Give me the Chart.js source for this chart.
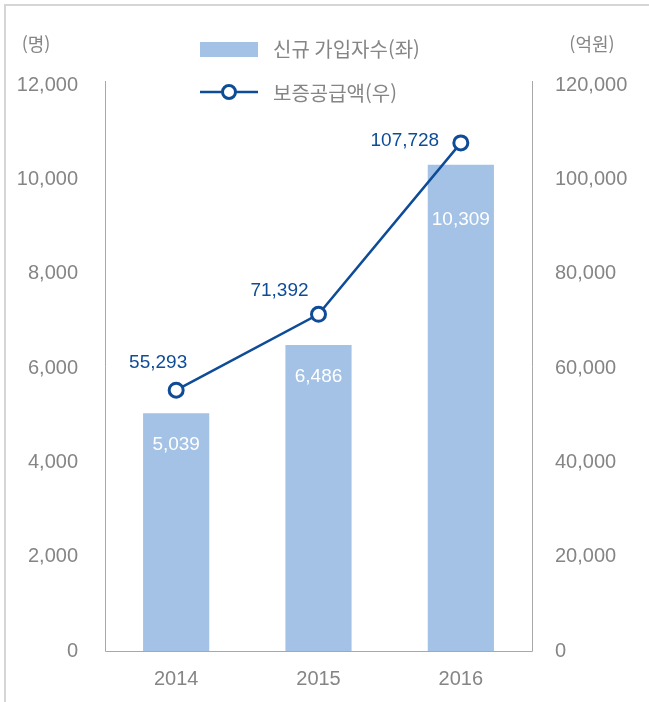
<!DOCTYPE html>
<html lang="ko">
<head>
<meta charset="utf-8">
<title>신규 가입자수 / 보증공급액</title>
<script src="https://cdn.jsdelivr.net/npm/chart.js@4.4.1/dist/chart.umd.min.js"></script>
<style>
  html, body { margin:0; padding:0; background:#fff; }
  #wrap { position:relative; width:649px; height:702px; }
  #frame { position:absolute; left:4px; top:4px; right:0; bottom:0;
           border-top:2px solid #d6d6d6; border-left:2px solid #d6d6d6; pointer-events:none; }
</style>
</head>
<body>
<div id="wrap">
  <canvas id="chartJoin" width="649" height="702"></canvas>
  <div id="frame"></div>
</div>
<script>
const YEARS = ['2014', '2015', '2016'];
const NEW_MEMBERS = [5039, 6486, 10309];      // 명 (좌축)
const GUARANTEE = [55293, 71392, 107728];     // 억원 (우축)
const LEFT_UNIT = '(명)';
const RIGHT_UNIT = '(억원)';
const SERIES_NAMES = ['신규 가입자수(좌)', '보증공급액(우)'];

const BAR_COLOR = '#a3c2e5';
const LINE_COLOR = '#0e4c98';
const TEXT_GRAY = '#858585';
const AXIS_GRAY = '#a8a8a8';
const FONT = '"Liberation Sans", "Noto Sans CJK KR", sans-serif';
const KR_FONT = '"Noto Sans CJK KR", sans-serif';

const fmt = v => v.toLocaleString('en-US');

// 축선, 단위, 범례
const decorations = {
  id: 'decorations',
  beforeDatasetsDraw(chart) {
    const { ctx, chartArea: a } = chart;
    ctx.save();
    ctx.strokeStyle = AXIS_GRAY;
    ctx.lineWidth = 1;
    ctx.beginPath();
    ctx.moveTo(a.left + 0.5, a.top - 4);
    ctx.lineTo(a.left + 0.5, a.bottom + 0.5);
    ctx.lineTo(a.right + 0.5, a.bottom + 0.5);
    ctx.lineTo(a.right + 0.5, a.top - 4);
    ctx.stroke();
    ctx.restore();
  },
  afterDraw(chart) {
    const { ctx } = chart;
    ctx.save();
    ctx.font = '18px ' + KR_FONT;
    ctx.fillStyle = TEXT_GRAY;
    ctx.textBaseline = 'middle';
    ctx.textAlign = 'center';
    ctx.fillText(LEFT_UNIT, 36, 44);
    ctx.fillText(RIGHT_UNIT, 592, 44);

    // 범례
    ctx.textAlign = 'left';
    ctx.fillStyle = BAR_COLOR;
    ctx.fillRect(200, 42, 58, 15);
    ctx.strokeStyle = LINE_COLOR;
    ctx.lineWidth = 2.5;
    ctx.beginPath();
    ctx.moveTo(200, 92);
    ctx.lineTo(258, 92);
    ctx.stroke();
    ctx.beginPath();
    ctx.arc(229, 92, 6.5, 0, Math.PI * 2);
    ctx.fillStyle = '#fff';
    ctx.fill();
    ctx.lineWidth = 3;
    ctx.stroke();
    ctx.font = '20px ' + KR_FONT;
    ctx.fillStyle = TEXT_GRAY;
    ctx.fillText(SERIES_NAMES[0], 273, 49);
    ctx.fillText(SERIES_NAMES[1], 273, 93);
    ctx.restore();
  }
};

// 막대 안쪽 값, 꺾은선 위 값
const valueLabels = {
  id: 'valueLabels',
  afterDatasetsDraw(chart) {
    const { ctx } = chart;
    ctx.save();
    ctx.font = '19px ' + FONT;
    ctx.textBaseline = 'middle';

    const barDrop = [31, 32, 55];
    ctx.fillStyle = '#fff';
    ctx.textAlign = 'center';
    chart.getDatasetMeta(0).data.forEach((bar, i) => {
      ctx.fillText(fmt(NEW_MEMBERS[i]), bar.x, bar.y + barDrop[i]);
    });

    const lineShift = [[-18, -27], [-39, -24], [-56, -2]];
    ctx.fillStyle = LINE_COLOR;
    chart.getDatasetMeta(1).data.forEach((pt, i) => {
      ctx.fillText(fmt(GUARANTEE[i]), pt.x + lineShift[i][0], pt.y + lineShift[i][1]);
    });
    ctx.restore();
  }
};

const tickStyle = { color: TEXT_GRAY, font: { family: FONT, size: 20 } };

new Chart(document.getElementById('chartJoin').getContext('2d'), {
  type: 'bar',
  data: {
    labels: YEARS,
    datasets: [
      {
        type: 'bar',
        label: SERIES_NAMES[0],
        data: NEW_MEMBERS,
        backgroundColor: BAR_COLOR,
        yAxisID: 'y',
        categoryPercentage: 1,
        barPercentage: 0.465,
        order: 1
      },
      {
        type: 'line',
        label: SERIES_NAMES[1],
        data: GUARANTEE,
        borderColor: LINE_COLOR,
        borderWidth: 2.5,
        pointRadius: 7,
        pointBorderWidth: 3,
        pointBackgroundColor: '#fff',
        pointBorderColor: LINE_COLOR,
        tension: 0,
        yAxisID: 'y1',
        order: 0
      }
    ]
  },
  options: {
    responsive: false,
    animation: false,
    locale: 'en-US',
    layout: { padding: { top: 85, left: 0, right: 0, bottom: 0 } },
    plugins: { legend: { display: false }, tooltip: { enabled: false } },
    scales: {
      x: {
        grid: { display: false, drawTicks: false },
        border: { display: false },
        ticks: { ...tickStyle, padding: 16 },
        afterFit(s) { s.height = 51; }
      },
      y: {
        position: 'left',
        min: 0, max: 12000,
        grid: { display: false, drawTicks: false },
        border: { display: false },
        ticks: { ...tickStyle, stepSize: 2000, padding: 27 },
        afterFit(s) { s.width = 105; }
      },
      y1: {
        position: 'right',
        min: 0, max: 120000,
        grid: { display: false, drawTicks: false },
        border: { display: false },
        ticks: { ...tickStyle, stepSize: 20000, padding: 23 },
        afterFit(s) { s.width = 117; }
      }
    }
  },
  plugins: [decorations, valueLabels]
});
</script>
</body>
</html>
